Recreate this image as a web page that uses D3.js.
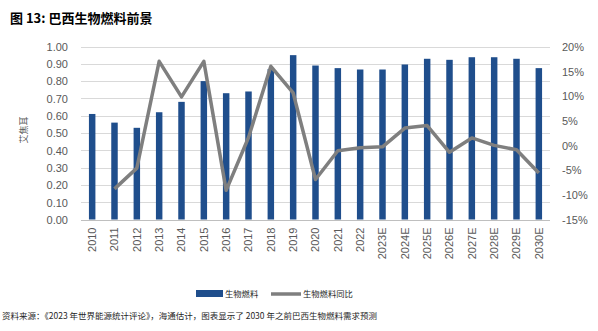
<!DOCTYPE html>
<html><head><meta charset="utf-8">
<script src="https://cdn.jsdelivr.net/npm/d3@7"></script>
<style>
body{margin:0;background:#fff;}
text{font-family:"Liberation Sans","Noto Sans CJK SC",sans-serif;}
</style></head>
<body><svg id="c" width="598" height="331"></svg>
<script>
const categories=["2010","2011","2012","2013","2014","2015","2016","2017","2018","2019","2020","2021","2022","2023E","2024E","2025E","2026E","2027E","2028E","2029E","2030E"];
const biofuel=[0.61,0.56,0.53,0.62,0.68,0.80,0.73,0.74,0.87,0.95,0.89,0.875,0.867,0.867,0.896,0.929,0.923,0.938,0.938,0.929,0.875];
const growth=[null,-8.8,-4.6,17.0,9.8,17.0,-9.1,1.6,16.0,10.6,-6.9,-1.1,-0.5,-0.3,3.5,4.0,-1.4,1.5,0.0,-0.9,-5.6];
const leftTicks=[0,0.1,0.2,0.3,0.4,0.5,0.6,0.7,0.8,0.9,1.0];
const rightTicks=[-15,-10,-5,0,5,10,15,20];

const svg=d3.select("#c");
const L=81,R=550,T=46.5,B=219.5;
const x=d3.scaleBand().domain(categories).range([L,R]).paddingInner(0.71).paddingOuter(0.355);
const y=d3.scaleLinear().domain([0,1]).range([B,T]);
const y2=d3.scaleLinear().domain([-15,20]).range([B,T]);

svg.append("text").attr("x",10).attr("y",23).attr("font-size",13).attr("font-weight","bold").attr("fill","#000")
  .style("font-family","'Noto Sans CJK SC',sans-serif").text("图 13:  巴西生物燃料前景");

// grid
svg.append("g").selectAll("line").data(leftTicks).join("line")
  .attr("x1",L).attr("x2",R).attr("y1",d=>Math.round(y(d))+0.5).attr("y2",d=>Math.round(y(d))+0.5)
  .attr("stroke",d=>d===0?"#bfbfbf":"#d9d9d9").attr("stroke-width",1);

// left axis
const ga=svg.append("g").attr("transform",`translate(${L-10},0)`).call(d3.axisLeft(y).tickValues(leftTicks).tickFormat(d3.format(".2f")).tickSize(0));
ga.select(".domain").remove();
ga.selectAll("text").attr("font-size",11).attr("fill","#595959").attr("dy","0.35em");
// right axis
const gr=svg.append("g").attr("transform",`translate(${R+12},0)`).call(d3.axisRight(y2).tickValues(rightTicks).tickFormat(d=>d+"%").tickSize(0));
gr.select(".domain").remove();
gr.selectAll("text").attr("font-size",11).attr("fill","#595959").attr("dy","0.35em").attr("x",0);
// x axis
const gx=svg.append("g").attr("transform",`translate(0,${B})`).call(d3.axisBottom(x).tickSize(0));
gx.select(".domain").remove();
gx.selectAll("text").attr("font-size",11).attr("fill","#595959").attr("transform","rotate(-90)")
  .attr("text-anchor","end").attr("x",-8).attr("y",0).attr("dy","0.35em");

// y title
svg.append("text").attr("transform","translate(27,130) rotate(-90)").attr("text-anchor","middle")
  .attr("font-size",9).attr("fill","#595959").style("font-family","'Noto Sans CJK SC',sans-serif").text("艾焦耳");

// bars
svg.append("g").selectAll("rect").data(biofuel).join("rect")
  .attr("x",(d,i)=>x(categories[i])).attr("width",x.bandwidth())
  .attr("y",d=>y(d)).attr("height",d=>B-y(d)).attr("fill","#1f4e8c");

// line
const pts=growth.map((g,i)=>[categories[i],g]).filter(p=>p[1]!==null);
svg.append("path").datum(pts)
  .attr("d",d3.line().x(p=>x(p[0])+x.bandwidth()/2).y(p=>y2(p[1])))
  .attr("fill","none").attr("stroke","#7f7f7f").attr("stroke-width",3.5).attr("stroke-linejoin","round");

// legend
svg.append("rect").attr("x",196).attr("y",290).attr("width",27).attr("height",7).attr("fill","#1f4e8c");
svg.append("text").attr("x",225).attr("y",297).attr("font-size",8.3).attr("fill","#262626").style("font-family","'Noto Sans CJK SC',sans-serif").text("生物燃料");
svg.append("line").attr("x1",271).attr("x2",301).attr("y1",294).attr("y2",294).attr("stroke","#7f7f7f").attr("stroke-width",3.5);
svg.append("text").attr("x",303).attr("y",297).attr("font-size",8.3).attr("fill","#262626").style("font-family","'Noto Sans CJK SC',sans-serif").text("生物燃料同比");

svg.append("text").attr("x",2).attr("y",319).attr("font-size",8.5).attr("fill","#262626").style("font-family","'Noto Sans CJK SC',sans-serif")
  .text("资料来源：《2023 年世界能源统计评论》，海通估计，图表显示了 2030 年之前巴西生物燃料需求预测");
</script></body></html>
